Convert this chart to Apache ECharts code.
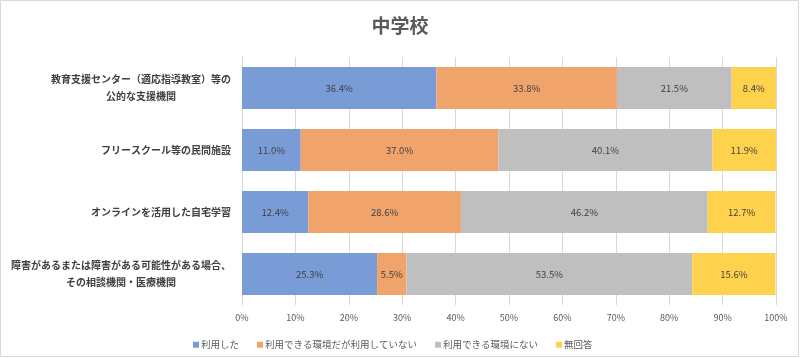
<!DOCTYPE html>
<html><head><meta charset="utf-8">
<script src="https://cdn.jsdelivr.net/npm/echarts@6/dist/echarts.min.js"></script>
<style>html,body{margin:0;padding:0;background:#fff;}#c{width:800px;height:358px;}</style>
</head><body><div id="c"></div>
<script>
const title = '中学校';
const categories = [
  '教育支援センター（適応指導教室）等の\n公的な支援機関',
  'フリースクール等の民間施設',
  'オンラインを活用した自宅学習',
  '障害があるまたは障害がある可能性がある場合、\nその相談機関・医療機関'
];
const seriesNames = ['利用した', '利用できる環境だが利用していない', '利用できる環境にない', '無回答'];
const used = [36.4, 11.0, 12.4, 25.3];
const availableNotUsed = [33.8, 37.0, 28.6, 5.5];
const notAvailable = [21.5, 40.1, 46.2, 53.5];
const noAnswer = [8.4, 11.9, 12.7, 15.6];
const xTicks = [0, 10, 20, 30, 40, 50, 60, 70, 80, 90, 100];
const colors = ['#7A9CD6', '#F0A46C', '#BFBFBF', '#FFD24D'];

const font = '"Noto Sans CJK JP", "Noto Sans", sans-serif';
const values = [used, availableNotUsed, notAvailable, noAnswer];
const chart = echarts.init(document.getElementById('c'), null, {renderer: 'canvas'});
chart.setOption({
  animation: false,
  backgroundColor: '#fff',
  textStyle: {fontFamily: font},
  title: {
    text: title, left: 'center', top: 11,
    textStyle: {fontFamily: font, fontSize: 19, fontWeight: 'bold', color: '#595959'}
  },
  graphic: [{
    type: 'rect', shape: {x: 0.5, y: 0.5, width: 798, height: 356},
    style: {fill: 'none', stroke: '#d9d9d9', lineWidth: 1}, silent: true
  }],
  legend: {
    left: 188, top: 335, itemWidth: 6, itemHeight: 6, itemGap: 18, icon: 'rect',
    textStyle: {fontFamily: font, fontSize: 9.5, color: '#595959', padding: [0, 0, 0, -3]},
    data: seriesNames
  },
  grid: {left: 242, right: 24, top: 57, bottom: 53, containLabel: false},
  xAxis: {
    type: 'value', min: xTicks[0], max: xTicks[xTicks.length - 1], interval: 10,
    axisLine: {show: false}, axisTick: {show: false},
    splitLine: {lineStyle: {color: '#d9d9d9', width: 1}},
    axisLabel: {formatter: v => v + '%', fontFamily: font, fontSize: 9, color: '#595959', margin: 8}
  },
  yAxis: {
    type: 'category', data: categories, inverse: true,
    axisLine: {lineStyle: {color: '#d9d9d9'}}, axisTick: {show: false},
    axisLabel: {
      margin: 11, fontFamily: font, fontSize: 10, color: '#404040', fontWeight: 'bold',
      formatter: v => v.split('\n').map(s => '{a|' + s + '}').join('\n'),
      rich: {a: {align: 'center', fontFamily: font, fontSize: 10, fontWeight: 'bold', color: '#404040', lineHeight: 17}}
    }
  },
  series: seriesNames.map((name, i) => ({
    name, type: 'bar', stack: 'total', barWidth: 42,
    itemStyle: {color: colors[i]},
    label: {
      show: true, position: 'inside', fontFamily: font, fontSize: 9.5, color: '#404040',
      formatter: p => p.value.toFixed(1) + '%'
    },
    data: values[i]
  }))
});
</script></body></html>
